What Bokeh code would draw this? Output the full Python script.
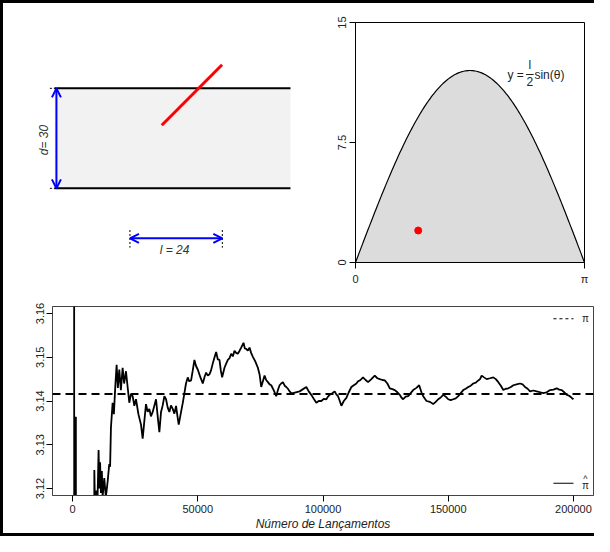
import numpy as np
from bokeh.plotting import figure
from bokeh.layouts import column, row
from bokeh.models import Arrow, OpenHead, Span, FixedTicker, Range1d, BasicTickFormatter
from bokeh.embed import file_html
from bokeh.resources import INLINE
from bokeh.core.properties import value

# ---------------- data ----------------
d_gap = 30          # distance between lines
l_needle = 24       # needle length
theta_drop = 0.86   # needle angle (rad)
dist_drop = 2.0     # distance from needle centre to nearest line
needle_cx = 35.7    # needle centre along the strip
strip_len = 61.3    # drawn length of the strip
arrow_x0 = 19.6     # start of the "l" dimension arrow

y_ticks2 = [0, 7.5, 15]
x_ticks2 = [0, float(np.pi)]
y_ticks3 = [3.12, 3.13, 3.14, 3.15, 3.16]
x_ticks3 = [0, 50000, 100000, 150000, 200000]

n_throws = [
    100, 600, 700, 1300, 1333, 1380, 8600, 8700, 8900, 9600, 10000, 10400, 10700, 11000,
    11333, 11700, 12000, 12667, 13300, 14000, 14667, 15000, 15333, 16000, 16500, 17067,
    17600, 18100, 18667, 19300, 20000, 20600, 21333, 22000, 22667, 23300, 24000, 24667,
    25333, 26300, 27333, 28000, 28600, 29333, 30000, 30667, 31300, 32000, 32700, 33333,
    34000, 34667, 35333, 36000, 36667, 37333, 38000, 38667, 39300, 40000, 40667, 41333,
    41900, 42400, 43333, 44000, 44667, 45300, 46000, 46600, 47333, 48000, 48667, 49300,
    50000, 51000, 52000, 52700, 53333, 54000, 54667, 55300, 56000, 56700, 57333, 58000,
    58667, 59200, 59733, 60200, 60667, 61300, 62000, 62700, 63333, 64000, 64667, 65300,
    66000, 66700, 67333, 68267, 68800, 69333, 70000, 70667, 71300, 72000, 73000, 74000,
    74700, 75333, 76000, 76667, 77300, 78000, 78700, 79333, 80300, 81333, 82000, 82667,
    83300, 84000, 84700, 85333, 86000, 86667, 87300, 88000, 90667, 93333, 94300, 95333,
    96300, 97333, 98300, 99333, 100300, 101333, 102000, 102667, 103700, 104667, 105300,
    106000, 106700, 107333, 108300, 109333, 110300, 111333, 112300, 113333, 114000, 114667,
    115300, 116000, 117000, 118000, 119300, 120667, 121700, 122667, 123700, 124667, 125700,
    126667, 127700, 128667, 129700, 130667, 131300, 132000, 133000, 134000, 135000, 136000,
    137300, 138400, 139300, 140000, 140700, 141333, 142700, 144000, 145000, 146000, 147000,
    148000, 149000, 150000, 151000, 152000, 153000, 154000, 155000, 156000, 157000, 158000,
    159000, 160000, 161000, 162000, 162700, 163333, 164300, 165333, 166700, 168000, 169000,
    170000, 171000, 172000, 173000, 174000, 175000, 176000, 177300, 178667, 179700, 180667,
    181700, 182667, 184000, 185333, 186700, 188000, 189300, 190667, 192000, 193333, 194300,
    195333, 196300, 197333, 198300, 199333, 200000]

pi_hat = [
    3.30, 3.25, 3.05, 3.05, 3.1364, 3.05, 3.05, 3.1242, 3.118, 3.1195, 3.1180, 3.1288, 3.1200, 3.1260,
    3.1190, 3.1240, 3.1180, 3.1224, 3.1180, 3.1215, 3.1256, 3.1250, 3.1339, 3.1396, 3.1370, 3.1433,
    3.1483, 3.1430, 3.1472, 3.1425, 3.1476, 3.1440, 3.1468, 3.1432, 3.1396, 3.1415, 3.1411, 3.1389,
    3.1404, 3.1370, 3.1346, 3.1314, 3.1350, 3.1393, 3.1375, 3.1382, 3.1365, 3.1375, 3.1390, 3.1404,
    3.1365, 3.1329, 3.1375, 3.1390, 3.1411, 3.1404, 3.1385, 3.1375, 3.1390, 3.1382, 3.1371, 3.1389,
    3.1365, 3.1346, 3.1375, 3.1395, 3.1418, 3.1440, 3.1454, 3.1445, 3.1447, 3.1470, 3.1494, 3.1480,
    3.1472, 3.1455, 3.1440, 3.1455, 3.1465, 3.1458, 3.1461, 3.1470, 3.1486, 3.1500, 3.1512, 3.1495,
    3.1494, 3.1470, 3.1454, 3.1465, 3.1476, 3.1485, 3.1494, 3.1498, 3.1508, 3.1502, 3.1515, 3.1510,
    3.1508, 3.1515, 3.1522, 3.1533, 3.1520, 3.1519, 3.1515, 3.1522, 3.1510, 3.1501, 3.1490, 3.1476,
    3.1460, 3.1432, 3.1445, 3.1458, 3.1448, 3.1443, 3.1438, 3.1436, 3.1425, 3.1411, 3.1425, 3.1436,
    3.1440, 3.1443, 3.1435, 3.1432, 3.1428, 3.1422, 3.1418, 3.1418, 3.1422, 3.1432, 3.1422, 3.1414,
    3.1405, 3.1396, 3.1400, 3.1400, 3.1405, 3.1404, 3.1410, 3.1414, 3.1418, 3.1422, 3.1415,
    3.1411, 3.1400, 3.1389, 3.1400, 3.1407, 3.1420, 3.1432, 3.1436, 3.1440, 3.1445, 3.1447,
    3.1450, 3.1454, 3.1448, 3.1443, 3.1450, 3.1458, 3.1452, 3.1450, 3.1448, 3.1447, 3.1440,
    3.1429, 3.1427, 3.1425, 3.1420, 3.1414, 3.1408, 3.1404, 3.1410, 3.1411, 3.1418, 3.1425,
    3.1430, 3.1436, 3.1420, 3.1411, 3.1405, 3.1400, 3.1398, 3.1393, 3.1398, 3.1404, 3.1408,
    3.1414, 3.1410, 3.1404, 3.1402, 3.1404, 3.1406, 3.1411, 3.1418, 3.1425, 3.1428, 3.1432,
    3.1435, 3.1440, 3.1442, 3.1447, 3.1450, 3.1458, 3.1454, 3.1450, 3.1452, 3.1454, 3.1450,
    3.1443, 3.1435, 3.1425, 3.1428, 3.1429, 3.1432, 3.1436, 3.1438, 3.1440, 3.1438, 3.1432,
    3.1428, 3.1422, 3.1424, 3.1422, 3.1420, 3.1418, 3.1420, 3.1425, 3.1426, 3.1429, 3.1426,
    3.1425, 3.1420, 3.1414, 3.1412, 3.1407, 3.1404]

FONT = value("Liberation Sans")

# ---------------- panel 1: needle drawing ----------------
p1 = figure(width=322, height=288, x_range=Range1d(-13.25, 70.4), y_range=Range1d(-22.25, 49.75),
            output_backend="svg", toolbar_location=None, min_border=0)
p1.axis.visible = False
p1.grid.visible = False
p1.outline_line_color = None
p1.quad(left=[0], right=[strip_len], bottom=[0], top=[d_gap], fill_color="#f2f2f2", line_color=None)
p1.segment(x0=[0, 0], y0=[0, d_gap], x1=[strip_len, strip_len], y1=[0, d_gap],
           line_color="black", line_width=2)
cy = d_gap - dist_drop
dx = l_needle / 2 * np.cos(theta_drop)
dy = l_needle / 2 * np.sin(theta_drop)
p1.segment(x0=[needle_cx - dx], y0=[cy - dy], x1=[needle_cx + dx], y1=[cy + dy],
           line_color="red", line_width=3)

# dimension arrows
p1.add_layout(Arrow(start=OpenHead(size=9, line_color="blue", line_width=2),
                    end=OpenHead(size=9, line_color="blue", line_width=2),
                    x_start=0.5, y_start=0, x_end=0.5, y_end=d_gap,
                    line_color="blue", line_width=2))
p1.add_layout(Arrow(start=OpenHead(size=9, line_color="blue", line_width=2),
                    end=OpenHead(size=9, line_color="blue", line_width=2),
                    x_start=arrow_x0, y_start=-15, x_end=arrow_x0 + l_needle, y_end=-15,
                    line_color="blue", line_width=2))
p1.segment(x0=[arrow_x0, arrow_x0 + l_needle], y0=[-12.5, -12.5],
           x1=[arrow_x0, arrow_x0 + l_needle], y1=[-17.8, -17.8],
           line_color="black", line_width=1, line_dash="2 2")
p1.segment(x0=[-1.2, -1.2], y0=[0, d_gap], x1=[1.5, 1.5], y1=[0, d_gap],
           line_color="black", line_width=1, line_dash="2 2")
p1.text(x=[-2.6], y=[d_gap / 2], text=[f"d=  {d_gap}"], angle=np.pi / 2,
        text_align="center", text_baseline="middle", text_font=FONT,
        text_font_style="italic", text_font_size="12px", text_color="#333333")
p1.text(x=[arrow_x0 + l_needle / 2], y=[-18.6], text=[f"l =  {l_needle}"],
        text_align="center", text_baseline="middle", text_font=FONT,
        text_font_style="italic", text_font_size="12px", text_color="#333333")

# ---------------- panel 2: sine region ----------------
p2 = figure(width=269, height=288, x_range=Range1d(0, np.pi), y_range=Range1d(0, 15),
            output_backend="svg", toolbar_location=None,
            min_border_left=30, min_border_right=10, min_border_top=19, min_border_bottom=29)
p2.grid.visible = False
p2.outline_line_color = "black"
theta_grid = np.linspace(0, np.pi, 200)
curve = l_needle / 2 * np.sin(theta_grid)
p2.varea(x=theta_grid, y1=np.zeros_like(theta_grid), y2=curve, fill_color="#dcdcdc")
p2.line(theta_grid, curve, line_color="black", line_width=1.2)
p2.scatter([theta_drop], [dist_drop], size=7, color="red")
p2.xaxis.ticker = FixedTicker(ticks=x_ticks2)
p2.xaxis.major_label_overrides = {0: "0", float(np.pi): "π"}
p2.yaxis.ticker = FixedTicker(ticks=y_ticks2)
p2.yaxis.major_label_orientation = "parallel"
for ax in (p2.xaxis, p2.yaxis):
    ax.minor_tick_line_color = None
    ax.major_tick_out = 6
    ax.major_tick_in = 0
    ax.axis_line_color = "black"
    ax.major_label_text_font = "Liberation Sans"
    ax.major_label_text_font_size = "11px"
    ax.major_label_text_color = "#222222"
    ax.major_label_standoff = 4
# formula label: y = (l/2) sin(theta)
p2.text(x=[2.309], y=[11.75], text=["y ="], text_align="right", text_baseline="middle",
        text_font=FONT, text_font_size="12px", text_color="#222222")
p2.text(x=[2.392], y=[11.9], text=["l"], text_align="center",
        text_baseline="bottom", text_font=FONT, text_font_size="12px", text_color="#222222")
p2.text(x=[2.392], y=[11.6], text=["2"], text_align="center",
        text_baseline="top", text_font=FONT, text_font_size="12px", text_color="#222222")
p2.segment(x0=[2.34], y0=[11.75], x1=[2.445], y1=[11.75], line_color="#222222", line_width=1)
p2.text(x=[2.455], y=[11.75], text=["sin(θ)"], text_align="left", text_baseline="middle",
        text_font=FONT, text_font_size="12px", text_color="#222222")

# ---------------- panel 3: convergence ----------------
p3 = figure(width=591, height=242, x_range=Range1d(-8000, 208000), y_range=Range1d(3.1184, 3.1616),
            output_backend="svg", toolbar_location=None,
            min_border_left=49, min_border_right=1, min_border_top=15, min_border_bottom=31)
p3.grid.visible = False
p3.outline_line_color = "#444444"
p3.line(n_throws, pi_hat, line_color="black", line_width=1.8)
p3.add_layout(Span(location=float(np.pi), dimension="width", line_color="black",
                   line_width=2, line_dash="8 5"))
p3.xaxis.ticker = FixedTicker(ticks=x_ticks3)
p3.xaxis.formatter = BasicTickFormatter(use_scientific=False)
p3.yaxis.ticker = FixedTicker(ticks=y_ticks3)
p3.yaxis.major_label_orientation = "parallel"
p3.xaxis.axis_label = "Número de Lançamentos"
p3.xaxis.axis_label_text_font = "Liberation Sans"
p3.xaxis.axis_label_text_font_style = "italic"
p3.xaxis.axis_label_text_font_size = "12px"
p3.xaxis.axis_label_text_color = "#222222"
p3.xaxis.axis_label_standoff = 1
for ax in (p3.xaxis, p3.yaxis):
    ax.minor_tick_line_color = None
    ax.major_tick_out = 6
    ax.major_tick_in = 0
    ax.axis_line_color = "#444444"
    ax.major_label_text_font = "Liberation Sans"
    ax.major_label_text_font_size = "11px"
    ax.major_label_text_color = "#222222"
    ax.major_label_standoff = 3
# legend (manual, no box)
p3.segment(x0=[192000], y0=[3.1588], x1=[200000], y1=[3.1588], line_color="black",
           line_width=1.2, line_dash="3 3")
p3.segment(x0=[192000], y0=[3.1212], x1=[200000], y1=[3.1212], line_color="black", line_width=1.2)
p3.text(x=[204800, 204800], y=[3.1588, 3.1207], text=["π", "π"], text_align="center",
        text_baseline="middle", text_font=FONT, text_font_size="10px", text_color="#222222")
p3.text(x=[204800], y=[3.1222], text=["^"], text_align="center",
        text_baseline="middle", text_font=FONT, text_font_size="9px", text_color="#222222")

layout = column(row(p1, p2), p3,
                styles={"border-left": "3px solid black", "border-top": "3px solid black",
                        "border-bottom": "3px solid black"})

open("out.html", "w").write(file_html(layout, INLINE))
